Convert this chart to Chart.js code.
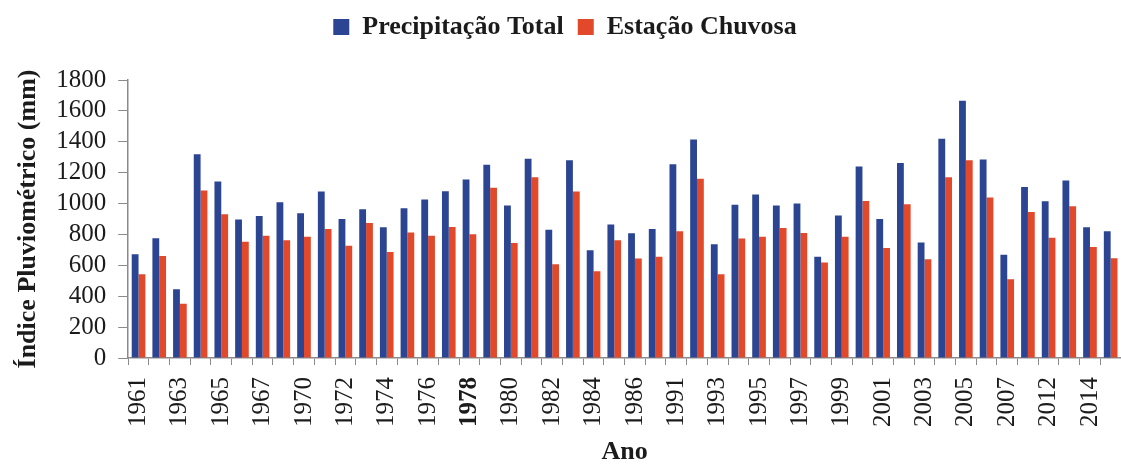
<!DOCTYPE html>
<html lang="pt">
<head>
<meta charset="UTF-8">
<title>Índice Pluviométrico</title>
<script src="https://cdn.jsdelivr.net/npm/chart.js"></script>
<style>
  html, body { margin: 0; padding: 0; background: #fff; }
  #box { width: 1121px; height: 465px; }
</style>
</head>
<body>
<div id="box"><canvas id="grafico"></canvas></div>
<script>
  // anos (so metade aparece no eixo)
  var anos = ['1961','1962','1963','1964','1965','1966','1967','1968','1970','1971',
              '1972','1973','1974','1975','1976','1977','1978','1979','1980','1981',
              '1982','1983','1984','1985','1986','1990','1991','1992','1993','1994',
              '1995','1996','1997','1998','1999','2000','2001','2002','2003','2004',
              '2005','2006','2007','2011','2012','2013','2014','2015']

  var precTotal = [672, 776, 445, 1319, 1143, 896, 920, 1008, 937, 1078,
                   900, 963, 846, 969, 1026, 1080, 1156, 1251, 987, 1290,
                   831, 1280, 698, 865, 807, 835, 1254, 1414, 737, 993,
                   1058, 987, 1000, 655, 922, 1240, 900, 1262, 748, 1420,
                   1666, 1286, 668, 1108, 1015, 1149, 846, 820]

  var estChuvosa = [542, 661, 351, 1084, 930, 753, 792, 763, 785, 835,
                    726, 874, 687, 813, 792, 848, 802, 1102, 744, 1171,
                    607, 1078, 562, 763, 644, 655, 820, 1160, 542, 774,
                    785, 841, 809, 618, 785, 1017, 713, 995, 640, 1171,
                    1280, 1039, 510, 946, 779, 982, 718, 646]

  var yMax = 1800
  var yPasso = 200

  var fonte = "'Liberation Serif', 'Times New Roman', serif"
  var corTexto = '#1b1b1b'
  var corEixo = '#8a8a8a'

  // um pouco mais de espaco abaixo da legenda
  var espacoLegenda = {
    id: 'espacoLegenda',
    beforeInit: function (chart) {
      var fitOriginal = chart.legend.fit
      chart.legend.fit = function () {
        fitOriginal.bind(chart.legend)()
        this.height += 30
      }
    }
  }

  const ctx = document.getElementById('grafico')

  new Chart(ctx, {
    type: 'bar',
    data: {
      labels: anos,
      datasets: [{
        label: 'Precipitação Total',
        data: precTotal,
        backgroundColor: '#2c4592',
        barPercentage: 1.0,
        categoryPercentage: 0.66
      }, {
        label: 'Estação Chuvosa',
        data: estChuvosa,
        backgroundColor: '#e2492b',
        barPercentage: 1.0,
        categoryPercentage: 0.66
      }]
    },
    plugins: [espacoLegenda],
    options: {
      responsive: true,
      maintainAspectRatio: false,
      animation: false,
      layout: { padding: { left: 9, right: 0, top: 0, bottom: 0 } },
      plugins: {
        legend: {
          position: 'top',
          labels: {
            color: corTexto,
            font: { family: fonte, size: 26, weight: 'bold' },
            boxWidth: 16,
            boxHeight: 16,
            padding: 14
          }
        },
        tooltip: { enabled: false }
      },
      scales: {
        x: {
          grid: {
            display: true,
            drawOnChartArea: false,
            offset: true,
            color: corEixo,
            tickLength: 7
          },
          border: { color: corEixo, width: 1.5 },
          ticks: {
            autoSkip: false,
            maxRotation: 90,
            minRotation: 90,
            padding: 12,
            color: corTexto,
            font: function (c) {
              var negrito = c.tick && c.tick.label === '1978'
              return { family: fonte, size: 25, weight: negrito ? 'bold' : 'normal' }
            },
            callback: function (valor, i) {
              return i % 2 === 0 ? anos[i] : ''
            }
          },
          title: {
            display: true,
            text: 'Ano',
            color: corTexto,
            font: { family: fonte, size: 26, weight: 'bold', lineHeight: 1.0 },
            padding: { top: 0, bottom: 0 }
          },
          afterFit: function (escala) {
            // barras ate a borda direita, como no original
            escala.paddingRight = 0
            escala.paddingLeft = 0
          }
        },
        y: {
          min: 0,
          max: yMax,
          grid: {
            display: true,
            drawOnChartArea: false,
            color: corEixo,
            tickLength: 10
          },
          border: { color: corEixo, width: 1.5 },
          ticks: {
            stepSize: yPasso,
            autoSkip: false,
            padding: 12,
            color: corTexto,
            font: { family: fonte, size: 25 },
            callback: function (v) { return String(v) }
          },
          title: {
            display: true,
            text: 'Índice Pluviométrico (mm)',
            color: corTexto,
            font: { family: fonte, size: 26, weight: 'bold' },
            padding: { top: 4, bottom: 0 }
          }
        }
      }
    }
  })
</script>
</body>
</html>
